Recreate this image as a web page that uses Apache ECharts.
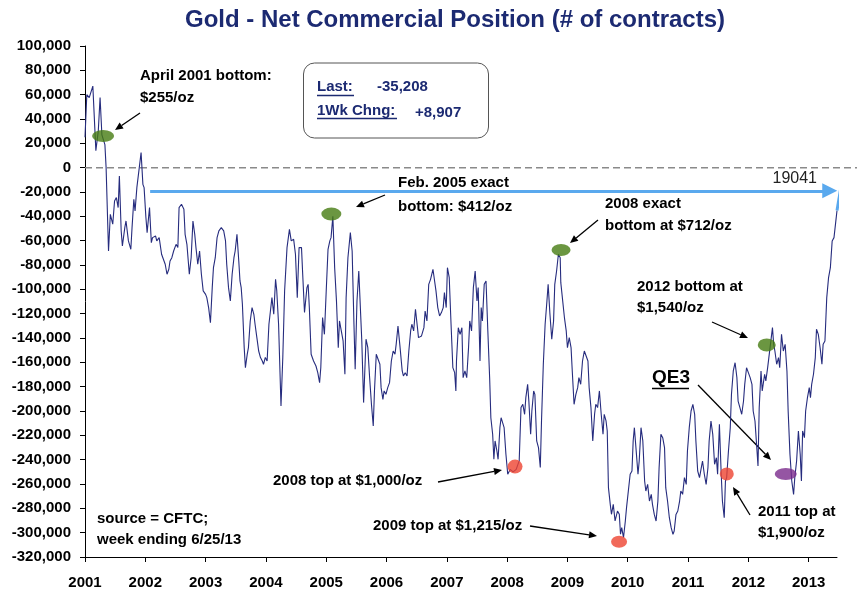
<!DOCTYPE html>
<html>
<head>
<meta charset="utf-8">
<script src="https://cdn.jsdelivr.net/npm/echarts@6/dist/echarts.min.js"></script>
<style>
html,body{margin:0;padding:0;background:#fff;}
#main{width:862px;height:600px;}
</style>
</head>
<body>
<div id="main"></div>
<script>
// ---- data ----
const yearTicks = [2001,2002,2003,2004,2005,2006,2007,2008,2009,2010,2011,2012,2013];
const weekDates = [
2001.00,2001.03,2001.07,2001.13,2001.18,2001.22,2001.25,2001.28,2001.33,2001.35,2001.39,2001.42,2001.46,2001.49,2001.52,2001.55,2001.57,2001.60,2001.62,2001.66,2001.68,2001.72,2001.76,2001.78,2001.81,2001.83,2001.86,2001.90,2001.93,2001.96,2001.98,
2002.01,2002.03,2002.07,2002.10,2002.12,2002.17,2002.19,2002.23,2002.27,2002.30,2002.33,2002.36,2002.39,2002.41,2002.44,2002.47,2002.51,2002.54,2002.56,2002.60,2002.64,2002.66,2002.69,2002.73,2002.76,2002.79,2002.82,2002.84,2002.87,2002.90,2002.93,2002.96,
2003.00,2003.02,2003.05,2003.08,2003.11,2003.13,2003.16,2003.19,2003.22,2003.26,2003.30,2003.33,2003.35,2003.38,2003.41,2003.44,2003.47,2003.49,2003.52,2003.55,2003.57,2003.59,2003.61,2003.64,2003.66,2003.69,2003.71,2003.74,2003.77,2003.80,2003.82,2003.85,2003.88,2003.91,2003.94,2003.96,2003.99,
2004.02,2004.05,2004.10,2004.13,2004.16,2004.18,2004.21,2004.25,2004.28,2004.31,2004.35,2004.39,2004.42,2004.46,2004.49,2004.52,2004.55,2004.59,2004.61,2004.64,2004.68,2004.70,2004.72,2004.75,2004.79,2004.83,2004.86,2004.89,2004.91,2004.94,2004.97,
2005.00,2005.03,2005.06,2005.08,2005.11,2005.14,2005.17,2005.20,2005.22,2005.25,2005.28,2005.31,2005.33,2005.36,2005.40,2005.43,2005.46,2005.48,2005.51,2005.54,2005.57,2005.59,2005.62,2005.66,2005.69,2005.72,2005.75,2005.78,2005.80,2005.83,2005.86,2005.89,2005.91,2005.94,2005.96,2005.99,
2006.02,2006.05,2006.08,2006.11,2006.14,2006.16,2006.19,2006.22,2006.26,2006.28,2006.31,2006.34,2006.37,2006.40,2006.42,2006.45,2006.48,2006.51,2006.53,2006.58,2006.62,2006.64,2006.67,2006.70,2006.73,2006.77,2006.80,2006.82,2006.85,2006.88,2006.91,2006.94,2006.96,2006.99,
2007.01,2007.04,2007.07,2007.10,2007.13,2007.15,2007.16,2007.19,2007.22,2007.25,2007.27,2007.30,2007.33,2007.36,2007.38,2007.41,2007.44,2007.47,2007.50,2007.52,2007.55,2007.57,2007.59,2007.62,2007.65,2007.68,2007.71,2007.73,2007.76,2007.78,2007.80,2007.83,2007.85,2007.88,2007.90,2007.93,2007.95,2007.98,
2008.01,2008.05,2008.10,2008.15,2008.20,2008.23,2008.26,2008.29,2008.31,2008.34,2008.36,2008.39,2008.41,2008.44,2008.46,2008.49,2008.52,2008.55,2008.57,2008.60,2008.63,2008.66,2008.68,2008.71,2008.74,2008.77,2008.79,2008.82,2008.85,2008.88,2008.89,2008.92,2008.95,2008.98,
2009.00,2009.03,2009.06,2009.08,2009.11,2009.14,2009.17,2009.19,2009.22,2009.25,2009.28,2009.30,2009.34,2009.36,2009.39,2009.42,2009.45,2009.47,2009.50,2009.53,2009.56,2009.59,2009.61,2009.64,2009.66,2009.68,2009.71,2009.73,2009.76,2009.79,2009.83,2009.86,2009.88,2009.90,2009.93,2009.96,2009.98,
2010.01,2010.04,2010.07,2010.09,2010.11,2010.14,2010.17,2010.19,2010.22,2010.25,2010.28,2010.30,2010.33,2010.36,2010.39,2010.41,2010.44,2010.47,2010.50,2010.52,2010.55,2010.58,2010.61,2010.63,2010.66,2010.69,2010.72,2010.75,2010.77,2010.80,2010.83,2010.86,2010.88,2010.91,2010.94,2010.97,2010.99,
2011.02,2011.05,2011.08,2011.11,2011.13,2011.16,2011.19,2011.22,2011.24,2011.27,2011.30,2011.33,2011.35,2011.38,2011.41,2011.44,2011.47,2011.49,2011.52,2011.55,2011.57,2011.60,2011.62,2011.64,2011.67,2011.70,2011.72,2011.75,2011.78,2011.81,2011.83,2011.86,2011.89,2011.92,2011.94,2011.97,
2012.00,2012.03,2012.06,2012.08,2012.11,2012.14,2012.16,2012.18,2012.21,2012.23,2012.27,2012.29,2012.32,2012.34,2012.38,2012.40,2012.42,2012.44,2012.47,2012.50,2012.52,2012.55,2012.58,2012.61,2012.64,2012.66,2012.69,2012.72,2012.75,2012.77,2012.80,2012.83,2012.86,2012.88,2012.90,2012.93,2012.95,2012.98,
2013.01,2013.03,2013.05,2013.08,2013.11,2013.13,2013.16,2013.19,2013.22,2013.24,2013.27,2013.30,2013.33,2013.36,2013.39,2013.42,2013.45,2013.47
];
const netPosition = [
25000,60000,57600,67000,14000,30000,57600,27000,19000,0,-68500,-38300,-46500,-27400,-24600,-32800,-6800,-52000,-64400,-49300,-43800,-60200,-67100,-49300,-26000,-35600,-16400,0,12400,-13700,-16400,
-41000,-53400,-32800,-61600,-57500,-56100,-60200,-57500,-71200,-69800,-79400,-87600,-83500,-76700,-74000,-68500,-63000,-65700,-32800,-30100,-34200,-54800,-63000,-87600,-74000,-43800,-54800,-65700,-79400,-68500,-87600,-101300,
-104100,-106800,-115000,-127400,-98600,-82200,-74000,-57500,-52000,-49300,-52000,-60200,-79400,-98600,-109600,-87600,-74000,-68500,-54800,-76700,-93100,-98600,-112300,-147900,-164400,-153400,-147900,-126000,-115000,-120500,-128700,-139700,-150700,-156100,-158900,-161600,-156000,
-158900,-128700,-106800,-120500,-91800,-101300,-128700,-195900,-156100,-101300,-65700,-50700,-60200,-58900,-71200,-106800,-65700,-65700,-87600,-119100,-98600,-95900,-115000,-153400,-158900,-163000,-168500,-176700,-164400,-123200,-137000,
-101300,-67100,-60200,-57500,-40000,-82200,-109600,-148000,-126000,-134200,-142400,-169800,-106800,-74000,-53400,-68500,-128700,-165700,-109600,-84900,-84900,-142400,-193100,-141000,-148000,-172600,-194500,-212300,-183500,-153400,-152000,-161600,-180800,-190400,-183500,-186300,
-180800,-176700,-158900,-150700,-153400,-145200,-130100,-145200,-167100,-171200,-168500,-171200,-150700,-134200,-128700,-134200,-116400,-130100,-139700,-138300,-131500,-117800,-126000,-95900,-91800,-83500,-82200,-101300,-115000,-121900,-119100,-115000,-102700,-115000,
-82200,-90400,-128700,-164400,-168500,-183500,-158900,-131500,-137000,-131500,-172600,-167100,-172600,-147900,-126000,-134200,-98600,-84900,-109600,-98600,-158900,-115000,-126000,-95900,-93100,-134200,-172600,-205500,-219100,-239700,-224600,-232800,-239700,-213700,-205500,-206800,-213700,-235600,
-252000,-248000,-250000,-248000,-241000,-197200,-194500,-202700,-189000,-178000,-191700,-219100,-200000,-183500,-186300,-224600,-230100,-246500,-208200,-161600,-128700,-109600,-95900,-120500,-141000,-126000,-95900,-84900,-71200,-74000,-94500,-94500,-123200,-134200,
-147900,-139700,-147900,-167100,-194500,-186300,-180800,-172600,-178000,-158900,-150700,-152000,-158900,-180800,-197200,-224600,-202700,-194500,-197200,-183500,-202700,-219100,-202700,-208200,-216400,-263000,-276700,-284900,-276700,-290400,-282200,-284900,-301300,-295800,-304000,-290400,-279400,
-280800,-252000,-249300,-224600,-213700,-232800,-252000,-241100,-213700,-224600,-257500,-265800,-260300,-274000,-268500,-276700,-285000,-290400,-274000,-246600,-219200,-221900,-230100,-263000,-274000,-287700,-295900,-301400,-298600,-285000,-282200,-274000,-265800,-268500,-254800,-260300,-232900,
-213700,-200000,-194500,-202700,-224600,-249300,-254800,-246600,-241100,-252000,-260300,-246600,-224600,-208200,-219200,-243800,-238400,-252000,-211000,-252000,-274000,-287700,-257500,-254800,-232900,-213700,-186300,-167100,-160300,-172600,-191800,-197300,-202700,-191800,-178100,-164400,
-163000,-172600,-178100,-200000,-208200,-230100,-245200,-197300,-167100,-183500,-169800,-175300,-164400,-156100,-139700,-131500,-145200,-150700,-161600,-156100,-164400,-137000,-150700,-145200,-167100,-200000,-235600,-257500,-268500,-254800,-241100,-216400,-235600,-257500,-216400,-221900,-200000,-189000,
-180800,-189000,-178100,-169800,-156100,-132800,-137000,-148000,-161600,-145200,-142400,-106800,-90400,-82200,-60200,-57500,-44100,-35208
];
// latest extension (light blue) and reference level arrow
const extensionDates = [2013.47, 2013.53];
const extensionValues = [-35208, -17500];
const levelValue = -19041;
const levelFrom = 2002.08;
const levelTo = 2013.35;
// highlighted turning points
const markerDates  = [2001.30, 2005.085, 2008.894, 2012.305, 2008.131, 2009.856, 2011.642, 2012.62];
const markerValues = [26100, -38100, -67600, -145700, -245700, -307400, -251700, -251700];
const markerKinds  = ['bottom','bottom','bottom','bottom','top','top','top','qe3'];

// ---- styles ----
const FONT = '"Liberation Sans", Arial, Helvetica, sans-serif';
const kindColor = {bottom:'#467c12', top:'#ee4431', qe3:'#7a2b8c'};
const markerSizes = [[22,12],[20,13],[19,12],[18,13],[15,14],[16,12],[14,13],[22,12]];

const chart = echarts.init(document.getElementById('main'));

const lineData = weekDates.map((d,i)=>[d, netPosition[i]]);
const extData = extensionDates.map((d,i)=>[d, extensionValues[i]]);
const markerData = markerDates.map((d,i)=>({
  value:[d, markerValues[i]],
  symbolSize: markerSizes[i],
  itemStyle:{color: kindColor[markerKinds[i]]}
}));

chart.setOption({
  animation:false,
  backgroundColor:'#fff',
  grid:{left:85, right:25, top:46, bottom:43},
  xAxis:{
    type:'value', min:2001, max:2013.47,
    splitLine:{show:false},
    axisLine:{show:true, onZero:false, lineStyle:{color:'#000', width:1}},
    axisTick:{show:true, length:5, customValues:yearTicks, lineStyle:{color:'#000'}},
    axisLabel:{customValues:yearTicks, formatter:v=>String(Math.round(v)), color:'#000',
      fontSize:15, fontWeight:'bold', fontFamily:FONT, margin:18}
  },
  yAxis:{
    type:'value', min:-320000, max:100000, interval:20000,
    splitLine:{show:false},
    axisLine:{show:true, lineStyle:{color:'#000', width:1}},
    axisTick:{show:true, length:5, lineStyle:{color:'#000'}},
    axisLabel:{formatter:v=>v.toLocaleString('en-US'), color:'#000',
      fontSize:15, fontWeight:'bold', fontFamily:FONT, margin:14}
  },
  series:[
    {
      type:'line', data:lineData, symbol:'none', z:3, clip:false,
      lineStyle:{color:'#262c7e', width:1.1},
      markLine:{
        silent:true, symbol:['none','triangle'], symbolSize:15, symbolKeepAspect:true, z:6,
        label:{show:false},
        lineStyle:{color:'#5aa9ee', width:3, type:'solid'},
        data:[[{coord:[levelFrom, levelValue]},{coord:[levelTo, levelValue]}]]
      }
    },
    {
      type:'line', data:extData, symbol:'none', clip:false, z:4,
      lineStyle:{color:'#5aa9ee', width:3}
    },
    {
      type:'scatter', data:markerData, symbol:'circle', z:5
    }
  ]
});

// ---- annotations ----
const y0 = chart.convertToPixel({yAxisIndex:0}, 0);
const x0 = chart.convertToPixel({xAxisIndex:0}, 2001);

function txt(text, x, y, opts){
  opts = opts||{};
  return {type:'text', z:1, silent:true, style:{
    text:text, x:x, y:y, fill:opts.fill||'#000',
    font:(opts.weight||'bold')+' '+(opts.size||15)+'px '+FONT,
    textAlign:opts.align||'left', textVerticalAlign:'middle'}};
}
function seg(x1,y1,x2,y2,color,w,dash){
  return {type:'line', z:1, silent:true, shape:{x1:x1,y1:y1,x2:x2,y2:y2},
    style:{stroke:color||'#000', lineWidth:w||1, lineDash:dash||null}};
}
function arrow(x1,y1,x2,y2){
  const a = Math.atan2(y2-y1, x2-x1), L = 8, W = 3.5;
  const bx = x2 - L*Math.cos(a), by = y2 - L*Math.sin(a);
  return [
    seg(x1,y1,bx,by,'#000',1.3),
    {type:'polygon', z:1, silent:true, shape:{points:[[x2,y2],
      [bx + W*Math.sin(a), by - W*Math.cos(a)],
      [bx - W*Math.sin(a), by + W*Math.cos(a)]]}, style:{fill:'#000'}}
  ];
}
const NAVY = '#1c2a72';
const graphics = [
  seg(x0, y0, 857, y0, '#8a8a8a', 1.5, [7,4]),
  txt('Gold - Net Commercial Position (# of contracts)', 455, 20, {size:24, fill:NAVY, align:'center'}),
  {type:'rect', z:1, silent:true, shape:{x:303.5, y:63, width:185, height:75, r:11},
    style:{fill:'#fff', stroke:'#555', lineWidth:1}},
  txt('Last:', 317, 87, {fill:NAVY}),
  seg(317, 95.5, 354, 95.5, NAVY, 1.3),
  txt('-35,208', 377, 87, {fill:NAVY}),
  txt('1Wk Chng:', 317, 111, {fill:NAVY}),
  seg(317, 118.5, 397, 118.5, NAVY, 1.3),
  txt('+8,907', 415, 113, {fill:NAVY}),
  txt('April 2001 bottom:', 140, 76),
  txt('$255/oz', 140, 98),
  txt('Feb. 2005 exact', 398, 183),
  txt('bottom: $412/oz', 398, 207),
  txt('2008 exact', 605, 204),
  txt('bottom at $712/oz', 605, 226),
  txt('2012 bottom at', 637, 287),
  txt('$1,540/oz', 637, 308),
  txt('QE3', 652, 378, {size:19}),
  seg(652, 388.5, 689, 388.5, '#000', 1.5),
  txt('2008 top at $1,000/oz', 273, 481),
  txt('2009 top at $1,215/oz', 373, 526),
  txt('2011 top at', 758, 512),
  txt('$1,900/oz', 758, 533),
  txt('source = CFTC;', 97, 519),
  txt('week ending 6/25/13', 97, 540),
  txt('19041', 817, 179, {weight:'normal', size:16, fill:'#222', align:'right'})
]
.concat(arrow(140,113,115,130))
.concat(arrow(385,195,356,207))
.concat(arrow(598,220,570,243))
.concat(arrow(712,322,748,338))
.concat(arrow(698,385,771,460))
.concat(arrow(438,482,502,470))
.concat(arrow(530,526,597,536))
.concat(arrow(750,515,733,487));

chart.setOption({graphic: graphics});
</script>
</body>
</html>
